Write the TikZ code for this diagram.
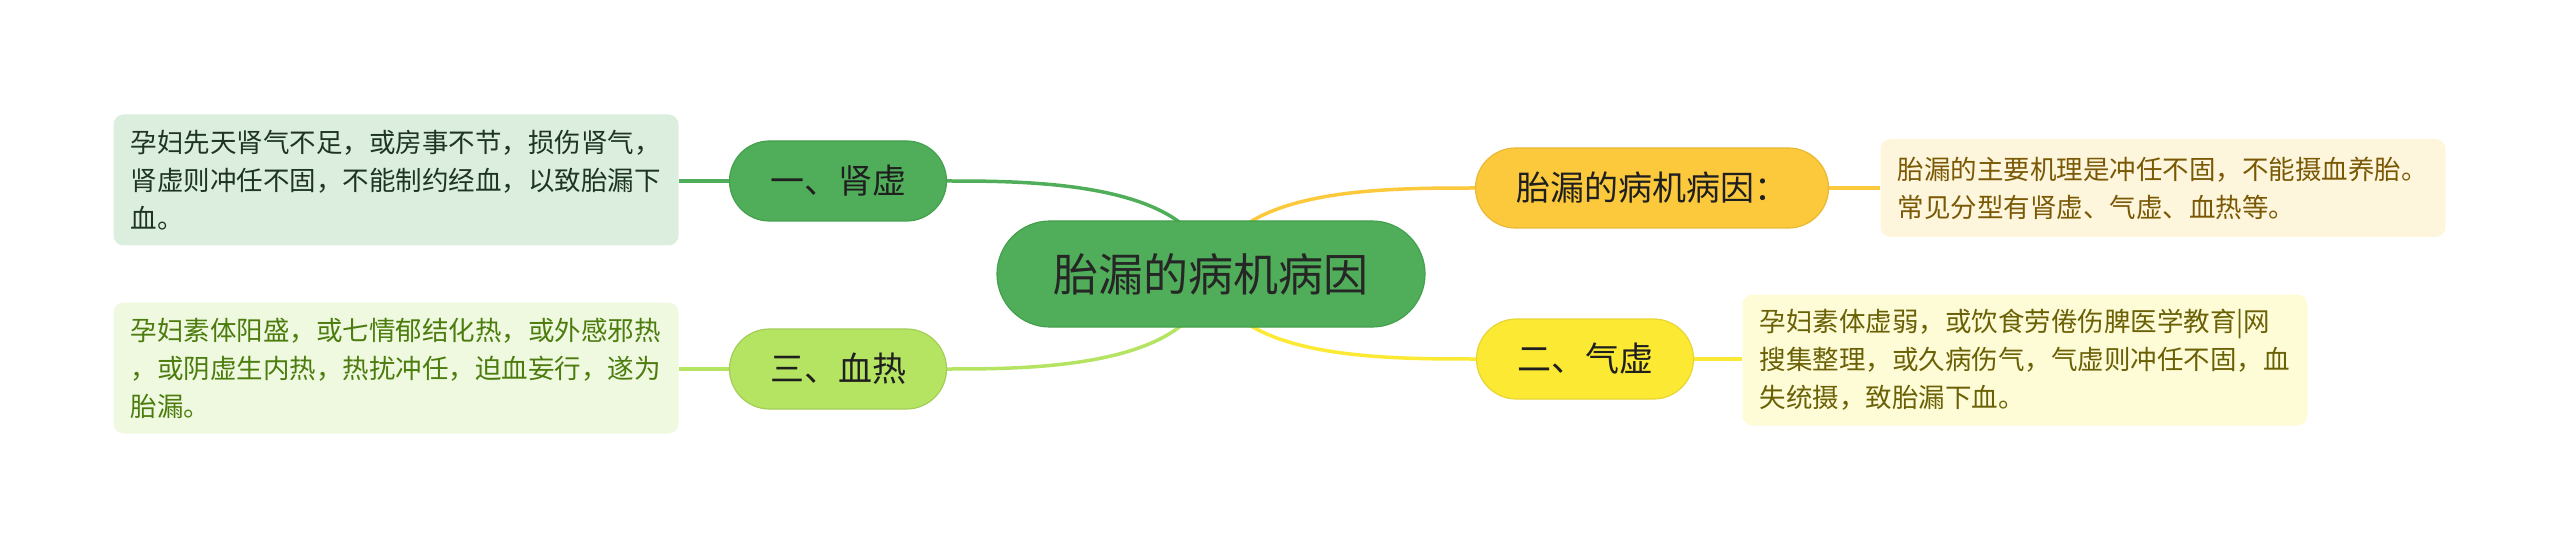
\documentclass[tikz,border=0pt]{standalone}
\usepackage{fontspec}
\newfontfamily\cjk{Noto Sans CJK SC}
\usetikzlibrary{backgrounds}
\definecolor{gMain}{HTML}{50AE5A}
\definecolor{gMainD}{HTML}{43A04D}
\definecolor{gLight}{HTML}{B5E462}
\definecolor{oNode}{HTML}{FCC93C}
\definecolor{yNode}{HTML}{FBE934}
\definecolor{bxA}{HTML}{DCEEDE}
\definecolor{bxB}{HTML}{EFF9E0}
\definecolor{bxC}{HTML}{FEF6DC}
\definecolor{bxD}{HTML}{FEFBD7}
\definecolor{txA}{HTML}{1E3524}
\definecolor{txB}{HTML}{4C7C0E}
\definecolor{txC}{HTML}{7A5906}
\definecolor{txD}{HTML}{6A6106}
\tikzset{
  rootbox/.style={draw=gMainD, line width=1.2pt, fill=gMain, rounded corners=53pt,
    minimum width=428pt, minimum height=106pt, inner sep=0pt, text=black!85,
    font=\cjk\fontsize{45}{50}\selectfont},
  branchbox/.style={line width=1.2pt, rounded corners=40pt, minimum height=80pt,
    inner sep=0pt, text=black!88, font=\cjk\fontsize{34}{40}\selectfont},
  detailbox/.style={rounded corners=10pt, inner xsep=17pt, inner ysep=0pt,
    text width=531pt, align=left, font=\cjk\fontsize{26.5}{38}\selectfont},
  conn/.style={line width=3.5pt}
}
\begin{document}
\begin{tikzpicture}[x=1pt,y=-1pt]
\useasboundingbox (0,0) rectangle (2560,548);
% nodes
\node[rootbox] (root) at (1211,274) {胎漏的病机病因};
\node[branchbox, draw=gMainD, fill=gMain, minimum width=217pt] (n1) at (838,181) {一、肾虚};
\node[branchbox, draw=gLight!90!black, fill=gLight, minimum width=217pt] (n3) at (838,369) {三、血热};
\node[branchbox, draw=oNode!92!black, fill=oNode, minimum width=353pt] (n0) at (1652,188) {胎漏的病机病因：};
\node[branchbox, draw=yNode!92!black, fill=yNode, minimum width=217pt] (n2) at (1585,359) {二、气虚};
\node[detailbox, fill=bxA, text=txA, minimum height=131pt] (d1) at (396,180)
  {孕妇先天肾气不足，或房事不节，损伤肾气，\\肾虚则冲任不固，不能制约经血，以致胎漏下\\血。};
\node[detailbox, fill=bxB, text=txB, minimum height=131pt] (d3) at (396,368)
  {孕妇素体阳盛，或七情郁结化热，或外感邪热\\，或阴虚生内热，热扰冲任，迫血妄行，遂为\\胎漏。};
\node[detailbox, fill=bxC, text=txC, minimum height=98pt] (d0) at (2163,188)
  {胎漏的主要机理是冲任不固，不能摄血养胎。\\常见分型有肾虚、气虚、血热等。};
\node[detailbox, fill=bxD, text=txD, minimum height=131pt] (d2) at (2025,360)
  {孕妇素体虚弱，或饮食劳倦伤脾医学教育|网\\搜集整理，或久病伤气，气虚则冲任不固，血\\失统摄，致胎漏下血。};
% connectors
\begin{scope}[on background layer]
\draw[conn, gMain] (root.center) .. controls (1200,181) and (1030,181) .. (n1.east);
\draw[conn, gLight] (root.center) .. controls (1200,369) and (1030,369) .. (n3.east);
\draw[conn, oNode] (root.center) .. controls (1229,188) and (1380,188) .. (n0.west);
\draw[conn, yNode] (root.center) .. controls (1229,359) and (1380,359) .. (n2.west);
\draw[conn, gMain] (n1.west) -- (d1.east |- n1.west);
\draw[conn, gLight] (n3.west) -- (d3.east |- n3.west);
\draw[conn, oNode] (n0.east) -- (d0.west |- n0.east);
\draw[conn, yNode] (n2.east) -- (d2.west |- n2.east);
\end{scope}
\end{tikzpicture}
\end{document}
